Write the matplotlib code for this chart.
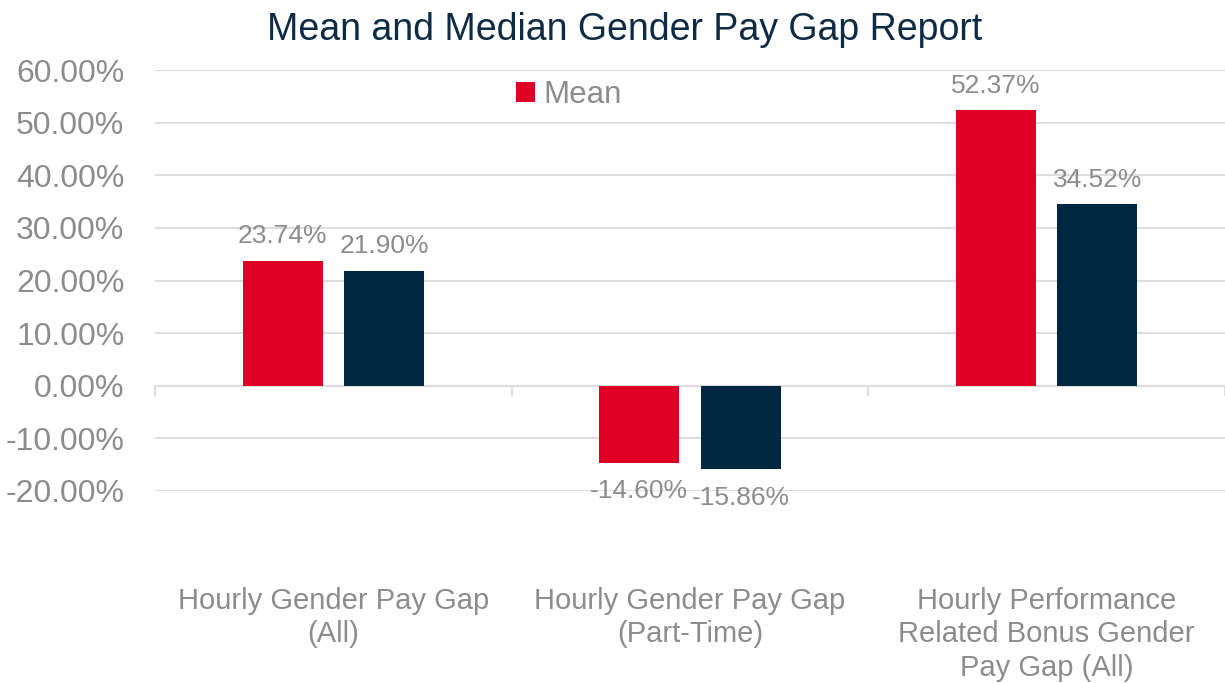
import matplotlib.pyplot as plt
import matplotlib.transforms as mtransforms
import numpy as np

plt.rcParams['font.family'] = ['Liberation Sans', 'DejaVu Sans']

# Data
categories = ["Hourly Gender Pay Gap\n(All)",
              "Hourly Gender Pay Gap\n(Part-Time)",
              "Hourly Performance\nRelated Bonus Gender\nPay Gap (All)"]
mean_gap = [23.74, -14.60, 52.37]
median_gap = [21.90, -15.86, 34.52]
yticks = [-20, -10, 0, 10, 20, 30, 40, 50, 60]

red = '#E00025'
navy = '#002741'
grey = '#8C8C8C'
grid_col = '#DEDEDE'

fig = plt.figure(figsize=(12.25, 6.83), dpi=100)
ax = fig.add_axes([155 / 1225, 1 - 491 / 683, 1 - 155 / 1225, (491 - 70) / 683])

x = np.arange(len(categories))
w = 0.224
off = 0.142
b1 = ax.bar(x - off, mean_gap, w, color=red, label='Mean', zorder=3)
b2 = ax.bar(x + off, median_gap, w, color=navy, label='Median', zorder=3)

for bars, vals in ((b1, mean_gap), (b2, median_gap)):
    for rect, v in zip(bars, vals):
        cx = rect.get_x() + rect.get_width() / 2
        if v >= 0:
            ax.annotate(f"{v:.2f}%", (cx, v), xytext=(0, 9), textcoords='offset points',
                        ha='center', va='bottom', fontsize=19, color=grey)
        else:
            ax.annotate(f"{v:.2f}%", (cx, v), xytext=(0, -12), textcoords='offset points',
                        ha='center', va='top', fontsize=19, color=grey)

ax.set_xlim(-0.5, len(categories) - 0.5)
ax.set_ylim(-20, 60)
ax.set_yticks(yticks)
ax.set_yticklabels([f"{t:.2f}%" for t in yticks])
ax.tick_params(axis='y', length=0, labelsize=23, labelcolor=grey, pad=22)
ax.grid(axis='y', color=grid_col, linewidth=1.5, zorder=0)

# x axis at zero with boundary ticks
for s in ['left', 'right', 'top']:
    ax.spines[s].set_visible(False)
ax.spines['bottom'].set_position(('data', 0))
ax.spines['bottom'].set_color(grid_col)
ax.spines['bottom'].set_linewidth(1.5)
ax.set_xticks(np.arange(len(categories) + 1) - 0.5)
ax.set_xticklabels([])
ax.tick_params(axis='x', length=7, width=1.5, color=grid_col, direction='out')

trans = mtransforms.blended_transform_factory(ax.transData, fig.transFigure)
for i, c in enumerate(categories):
    ax.text(i, 1 - 587 / 683, c, transform=trans, ha='center', va='top',
            fontsize=21, color=grey, linespacing=1.25)

ax.legend(handles=[b1], loc='center', bbox_to_anchor=(569 / 1225, 1 - 95 / 683),
          bbox_transform=fig.transFigure, frameon=False, fontsize=22.5,
          labelcolor=grey, handlelength=0.6, handleheight=0.6, handletextpad=0.3)

fig.text(625 / 1225, 1 - 30 / 683, "Mean and Median Gender Pay Gap Report",
         ha='center', va='center', fontsize=27, color='#0D2B45')

fig.savefig('out.png', dpi=100)
